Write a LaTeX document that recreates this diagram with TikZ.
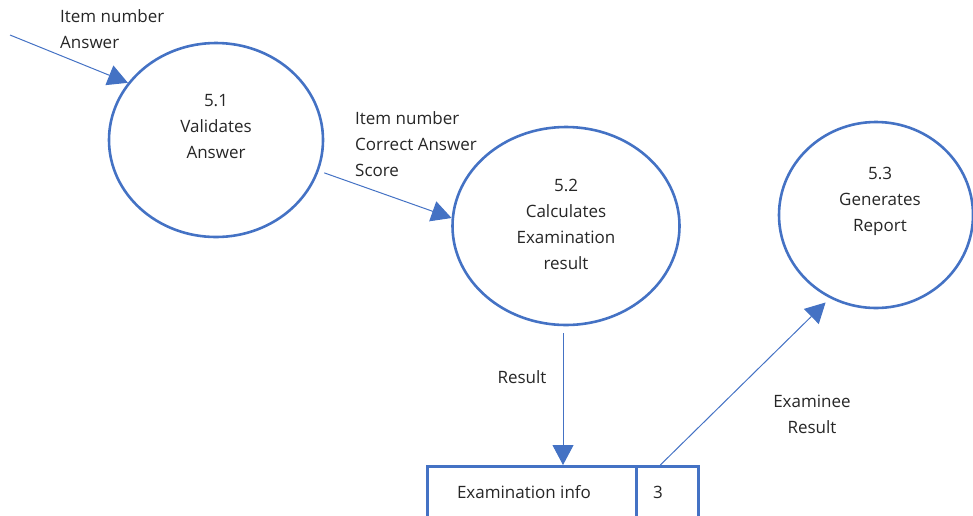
\documentclass[tikz,border=0pt]{standalone}
\usepackage{fontspec}
\setmainfont{Open Sans}
\usetikzlibrary{shapes.geometric,arrows.meta,calc}
\definecolor{dfdblue}{HTML}{4472C4}
\definecolor{dfdtext}{HTML}{262626}
\tikzset{
  dfdfont/.style={text=dfdtext, font=\fontsize{17}{26}\selectfont},
  process/.style={ellipse, draw=dfdblue, line width=2.6pt, inner sep=0pt},
  ptext/.style={dfdfont, align=center},
  flowlabel/.style={dfdfont, align=left, inner sep=0pt},
  flow/.style={draw=dfdblue, line width=1pt, -{Triangle[length=20pt,width=21pt]}},
  storecell/.style={draw=dfdblue, line width=2.6pt, minimum height=60pt, inner sep=0pt, anchor=north west}
}
\begin{document}
\begin{tikzpicture}[x=1pt,y=-1pt]
\useasboundingbox (0,0) rectangle (973,515);

% processes
\node[process, minimum width=214pt, minimum height=194pt] (p51) at (216,140) {};
\node[ptext] (t51) at (216,127) {5.1\\Validates\\Answer};
\node[process, minimum width=227pt, minimum height=198pt] (p52) at (566,226) {};
\node[ptext] (t52) at (566,224) {5.2\\Calculates\\Examination\\result};
\node[process, minimum width=194pt, minimum height=186pt] (p53) at (876,215) {};
\node[ptext] (t53) at (880,201) {5.3\\Generates\\Report};

% data store
\node[storecell, minimum width=209pt] (store) at (426,465) {};
\node[dfdfont] (storename) at (524,492) {Examination info};
\node[storecell, minimum width=62pt] (storeid) at (635,465) {};
\node[dfdfont] (storenum) at (658,492) {3};

% flows
\coordinate (src) at (10,35);
\draw[flow] (src) -- (p51.147);
\draw[flow] ([shift={(7pt,2pt)}]p51.-19) -- (p52.176);
\draw[flow, shorten <=7pt] ([xshift=-3pt]p52.south) -- ([xshift=-3pt]p52.south |- store.north);
\draw[flow, shorten >=6pt] ([xshift=-7pt]storeid.north) -- (p53.-119);

% flow labels
\node[flowlabel, anchor=west] (l1) at (60,29.5) {Item number\\Answer};
\node[flowlabel, anchor=west] (l2) at (355,144) {Item number\\Correct Answer\\Score};
\node[flowlabel] (l3) at (522,377) {Result};
\node[flowlabel, align=center] (l4) at (812,414) {Examinee\\Result};
\end{tikzpicture}
\end{document}
